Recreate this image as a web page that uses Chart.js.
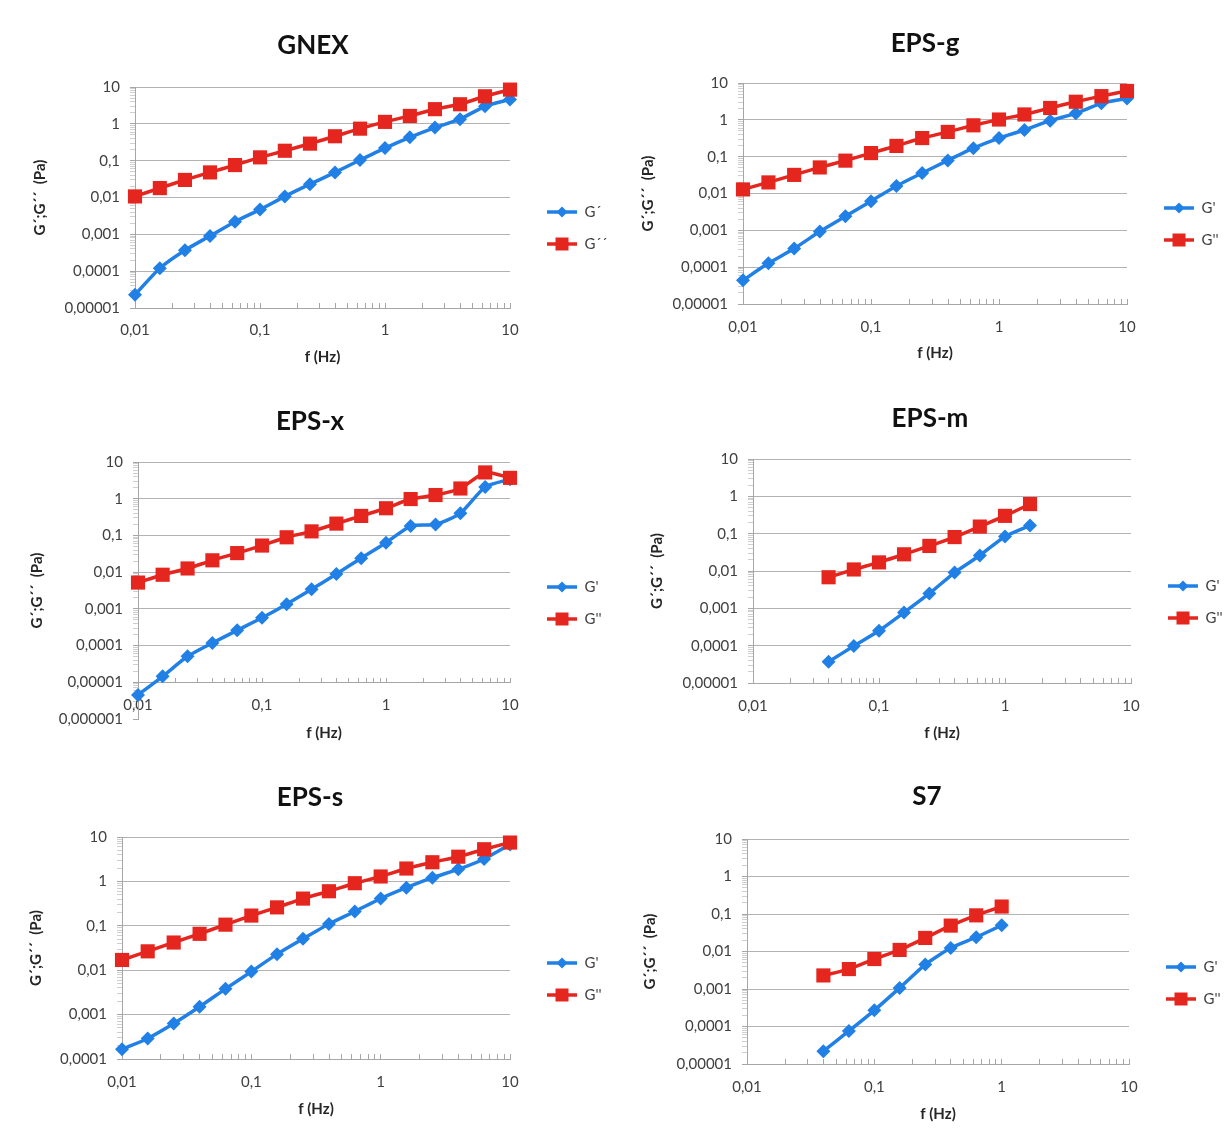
<!DOCTYPE html>
<html>
<head>
<meta charset="utf-8">
<title>G' G'' frequency sweeps</title>
<script src="https://cdn.jsdelivr.net/npm/chart.js@4.4.0/dist/chart.umd.min.js"></script>
<style>
  body { margin: 0; background: #fff; width: 1229px; height: 1133px; position: relative; overflow: hidden; }
  canvas { position: absolute; }
</style>
</head>
<body>
<canvas id="gnex" width="615" height="380" style="left:0;top:0"></canvas>
<canvas id="epsg" width="614" height="380" style="left:615px;top:0"></canvas>
<canvas id="epsx" width="615" height="380" style="left:0;top:380px"></canvas>
<canvas id="epsm" width="614" height="380" style="left:615px;top:380px"></canvas>
<canvas id="epss" width="615" height="373" style="left:0;top:760px"></canvas>
<canvas id="s7" width="614" height="373" style="left:615px;top:760px"></canvas>
<script>
// frequencies (Hz)
const freqFull = [0.01, 0.0158, 0.0251, 0.0398, 0.0631, 0.1, 0.158, 0.251, 0.398, 0.631, 1, 1.58, 2.51, 3.98, 6.31, 10];
const freqM = [0.0398, 0.0631, 0.1, 0.158, 0.251, 0.398, 0.631, 1, 1.58];
const freqS7 = [0.0398, 0.0631, 0.1, 0.158, 0.251, 0.398, 0.631, 1];

// G' and G'' (Pa)
const gnexG1 = [0.000023, 0.00012, 0.00037, 0.0009, 0.0022, 0.0047, 0.0107, 0.023, 0.048, 0.104, 0.22, 0.43, 0.79, 1.34, 3.0, 4.6];
const gnexG2 = [0.0107, 0.018, 0.030, 0.048, 0.076, 0.123, 0.186, 0.29, 0.46, 0.74, 1.13, 1.64, 2.5, 3.4, 5.6, 8.5];
const epsgG1 = [0.000044, 0.000127, 0.00032, 0.00093, 0.0024, 0.0062, 0.016, 0.036, 0.079, 0.17, 0.32, 0.53, 0.95, 1.5, 2.8, 3.8];
const epsgG2 = [0.0129, 0.020, 0.032, 0.051, 0.078, 0.125, 0.196, 0.32, 0.47, 0.71, 1.02, 1.40, 2.1, 3.1, 4.4, 6.1];
const epsxG1 = [0.0000045, 0.0000145, 0.000051, 0.000118, 0.00026, 0.00057, 0.00134, 0.0034, 0.0089, 0.024, 0.063, 0.18, 0.20, 0.40, 2.1, 3.4];
const epsxG2 = [0.0052, 0.0085, 0.0126, 0.021, 0.033, 0.053, 0.089, 0.129, 0.21, 0.34, 0.55, 0.98, 1.26, 1.9, 5.2, 3.7];
const epsmG1 = [0.000037, 0.000098, 0.00025, 0.00077, 0.0025, 0.0091, 0.026, 0.084, 0.166];
const epsmG2 = [0.0068, 0.011, 0.017, 0.028, 0.047, 0.081, 0.155, 0.30, 0.62];
const epssG1 = [0.000165, 0.00029, 0.00063, 0.0015, 0.0038, 0.0093, 0.023, 0.051, 0.11, 0.21, 0.41, 0.72, 1.21, 1.87, 3.2, 6.8];
const epssG2 = [0.017, 0.0266, 0.042, 0.066, 0.106, 0.17, 0.26, 0.41, 0.60, 0.91, 1.29, 1.95, 2.7, 3.6, 5.3, 7.5];
const s7G1 = [0.000022, 0.000076, 0.00027, 0.00107, 0.0045, 0.0124, 0.024, 0.050];
const s7G2 = [0.0023, 0.0034, 0.0063, 0.011, 0.023, 0.049, 0.092, 0.158];

// decade ticks
const xTicks = [0.01, 0.1, 1, 10];
const yTicks5 = [0.00001, 0.0001, 0.001, 0.01, 0.1, 1, 10];
const yTicks6 = [0.000001, 0.00001, 0.0001, 0.001, 0.01, 0.1, 1, 10];
const yTicks4 = [0.0001, 0.001, 0.01, 0.1, 1, 10];

const namesAcute = ['G´', 'G´´'];
const namesPrime = ["G'", "G''"];
const yTitle = 'G´;G´´  (Pa)';
const xTitle = 'f (Hz)';

const BLUE = '#2180e6';
const RED = '#e5261f';
const GRID = '#b2b2b2';
const AXIS = '#a6a6a6';
const FONT = 'Lato, "Open Sans", sans-serif';
const LEG_PAD = 17;
const LEG_FONT = 15;
const X_H = 60;

function isDecade(v) {
  const l = Math.log10(v);
  return Math.abs(l - Math.round(l)) < 1e-6;
}

function fmt(v) {
  const e = Math.round(Math.log10(v));
  if (e >= 0) return String(Math.round(Math.pow(10, e)));
  return '0,' + '0'.repeat(-e - 1) + '1';
}

function withMinors(majors) {
  const out = [];
  majors.forEach((m, i) => {
    out.push(m);
    if (i < majors.length - 1) {
      for (let k = 2; k <= 9; k++) out.push(+(m * k).toPrecision(3));
    }
  });
  return out;
}

function legendIcon(color, shape) {
  const c = document.createElement('canvas');
  c.width = 50; c.height = 16;
  const g = c.getContext('2d');
  g.strokeStyle = color; g.lineWidth = 3.5;
  g.beginPath(); g.moveTo(20, 8); g.lineTo(50, 8); g.stroke();
  g.fillStyle = color;
  g.beginPath();
  if (shape === 'diamond') {
    g.moveTo(35, 2.5); g.lineTo(40.5, 8); g.lineTo(35, 13.5); g.lineTo(29.5, 8); g.closePath();
  } else {
    g.rect(28.5, 1.5, 13, 13);
  }
  g.fill();
  return c;
}
const icons = [legendIcon(BLUE, 'diamond'), legendIcon(RED, 'square')];

function makePanel(p) {
  const canvas = document.getElementById(p.id);
  const W = canvas.width, H = canvas.height;
  const m = canvas.getContext('2d');
  m.font = LEG_FONT + 'px ' + FONT;
  const textW = Math.max(...p.names.map(n => m.measureText(n).width));
  const legendW = LEG_PAD + 50 + LEG_FONT / 2 + textW + 10;
  const padRight = W - p.right - legendW;
  const padLeft = Math.max(0, 2 * p.titleX - W + padRight);
  const axisPix = p.axisPix !== undefined ? p.axisPix : p.bottom;
  const padBottom = p.axisAt ? H - p.bottom : H - p.bottom - X_H;
  const legT = 2 * (p.legendY - LEG_FONT / 2) - p.top - LEG_PAD - p.bottom + 2 * (LEG_FONT + LEG_PAD);

  const xScale = {
    type: 'logarithmic',
    min: xTicks[0], max: xTicks[xTicks.length - 1],
    afterBuildTicks: s => { s.ticks = withMinors(xTicks).map(v => ({value: v})); },
    afterFit: s => { s.height = X_H; },
    grid: { drawOnChartArea: false, drawTicks: true, tickLength: -5, tickColor: AXIS },
    border: { color: AXIS, width: 1 },
    ticks: {
      autoSkip: false, maxRotation: 0, padding: p.xLabelY - axisPix + 5 - 9,
      color: '#404040', font: { family: FONT, size: 15 },
      callback: v => isDecade(v) ? fmt(v) : ''
    },
    title: {
      display: true, text: xTitle, color: '#262626',
      font: { family: FONT, size: 15, weight: 'bold' },
      padding: { top: 0, bottom: axisPix + X_H - p.xTitleY - 9 }
    }
  };
  if (p.axisAt) xScale.position = { y: p.axisAt };

  const yMinGrid = p.axisAt || p.yTicks[0];
  const yScale = {
    type: 'logarithmic',
    min: p.yTicks[0], max: p.yTicks[p.yTicks.length - 1],
    afterBuildTicks: s => { s.ticks = withMinors(p.yTicks).map(v => ({value: v})); },
    afterFit: s => { s.width = p.left - padLeft; },
    grid: {
      drawTicks: true, tickLength: 5,
      color: c => (c.tick && isDecade(c.tick.value) && c.tick.value >= yMinGrid) ? GRID : 'rgba(0,0,0,0)',
      tickColor: c => (c.tick && isDecade(c.tick.value)) ? AXIS : '#cfcfcf'
    },
    border: { color: AXIS, width: 1 },
    ticks: {
      autoSkip: false, padding: 10,
      color: '#404040', font: { family: FONT, size: 15 },
      callback: v => isDecade(v) ? fmt(v) : ''
    },
    title: {
      display: true, text: yTitle, color: '#262626',
      font: { family: FONT, size: 15, weight: 'bold' },
      padding: { top: p.yTitleX - padLeft - 9, bottom: 0 }
    }
  };

  new Chart(canvas, {
    type: 'line',
    data: {
      datasets: [
        {
          label: p.names[0],
          data: p.freq.map((f, i) => ({x: f, y: p.g1[i]})),
          borderColor: BLUE, backgroundColor: BLUE, borderWidth: 3.5,
          pointStyle: 'rectRot', pointRadius: 7, pointBorderWidth: 0,
          tension: 0.2, clip: false, order: 1
        },
        {
          label: p.names[1],
          data: p.freq.map((f, i) => ({x: f, y: p.g2[i]})),
          borderColor: RED, backgroundColor: RED, borderWidth: 3.5,
          pointStyle: 'rect', pointRadius: 10, pointBorderWidth: 0,
          tension: 0.2, clip: false, order: 0
        }
      ]
    },
    options: {
      responsive: false,
      animation: false,
      devicePixelRatio: 1,
      layout: { padding: { left: padLeft, right: padRight, top: 0, bottom: padBottom } },
      scales: { x: xScale, y: yScale },
      plugins: {
        tooltip: { enabled: false },
        title: {
          display: true, text: p.title, color: '#111',
          font: { family: FONT, size: 26, weight: 'bold' },
          padding: { top: p.titleY - 15.6, bottom: p.top - p.titleY - 15.6 }
        },
        legend: {
          position: 'right',
          fullSize: false,
          title: { display: true, text: '', font: { size: 10 }, padding: Math.max(0, (legT - 12) / 2) },
          labels: {
            usePointStyle: true, pointStyleWidth: 50, padding: LEG_PAD,
            font: { family: FONT, size: LEG_FONT }, color: '#404040',
            generateLabels: chart => chart.data.datasets.map((ds, i) => ({
              text: ds.label, pointStyle: icons[i], datasetIndex: i,
              fillStyle: 'transparent', strokeStyle: 'transparent', lineWidth: 0,
              hidden: false, fontColor: '#404040'
            }))
          }
        }
      }
    }
  });
}

makePanel({ id: 'gnex', title: 'GNEX', freq: freqFull, g1: gnexG1, g2: gnexG2, names: namesAcute, yTicks: yTicks5,
  left: 135, right: 510, top: 87, bottom: 308, titleX: 313, titleY: 46, yTitleX: 40, xLabelY: 330, xTitleY: 357, legendY: 212 });
makePanel({ id: 'epsg', title: 'EPS-g', freq: freqFull, g1: epsgG1, g2: epsgG2, names: namesPrime, yTicks: yTicks5,
  left: 128, right: 512, top: 83, bottom: 304, titleX: 310, titleY: 44, yTitleX: 33, xLabelY: 327, xTitleY: 353, legendY: 208 });
makePanel({ id: 'epsx', title: 'EPS-x', freq: freqFull, g1: epsxG1, g2: epsxG2, names: namesPrime, yTicks: yTicks6,
  axisAt: 0.00001, axisPix: 302,
  left: 138, right: 510, top: 82, bottom: 339, titleX: 310, titleY: 42, yTitleX: 37, xLabelY: 325, xTitleY: 353, legendY: 207 });
makePanel({ id: 'epsm', title: 'EPS-m', freq: freqM, g1: epsmG1, g2: epsmG2, names: namesPrime, yTicks: yTicks5,
  left: 138, right: 516, top: 79, bottom: 303, titleX: 315, titleY: 39, yTitleX: 42, xLabelY: 326, xTitleY: 353, legendY: 206 });
makePanel({ id: 'epss', title: 'EPS-s', freq: freqFull, g1: epssG1, g2: epssG2, names: namesPrime, yTicks: yTicks4,
  left: 122, right: 510, top: 77, bottom: 299, titleX: 310, titleY: 38, yTitleX: 36, xLabelY: 322, xTitleY: 349, legendY: 203 });
makePanel({ id: 's7', title: 'S7', freq: freqS7, g1: s7G1, g2: s7G2, names: namesPrime, yTicks: yTicks5,
  left: 132, right: 514, top: 79, bottom: 304, titleX: 312, titleY: 37, yTitleX: 35, xLabelY: 327, xTitleY: 354, legendY: 207 });
</script>
</body>
</html>
